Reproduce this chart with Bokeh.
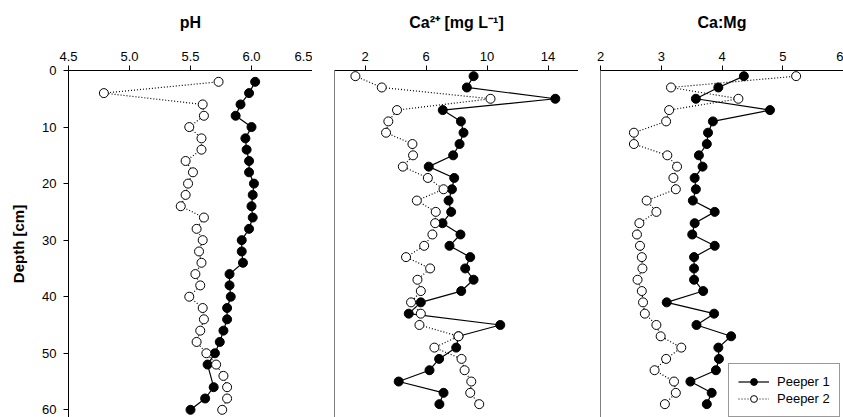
from bokeh.plotting import figure
from bokeh.layouts import row
from bokeh.models import Range1d, FixedTicker, Span, Legend, LegendItem, ColumnDataSource
from bokeh.embed import file_html
from bokeh.resources import INLINE

# ---------------- data ----------------
depth_ph_p1 = [2, 4, 6, 8, 10, 12, 14, 16, 18, 20, 22, 24, 26, 28, 30, 32, 34, 36, 38, 40,
               42, 44, 46, 48, 50, 52, 56, 58, 60]
ph_p1 = [6.03, 5.98, 5.91, 5.87, 6.00, 5.95, 5.96, 5.98, 5.98, 6.02, 6.01, 6.00, 6.01, 5.98,
         5.92, 5.92, 5.93, 5.82, 5.82, 5.83, 5.80, 5.80, 5.77, 5.74, 5.70, 5.64, 5.69, 5.62, 5.50]
depth_ph_p2 = [2, 4, 6, 8, 10, 12, 14, 16, 18, 20, 22, 24, 26, 28, 30, 32, 34, 36, 38, 40,
               42, 44, 46, 48, 50, 52, 54, 56, 58, 60]
ph_p2 = [5.73, 4.79, 5.60, 5.61, 5.49, 5.59, 5.59, 5.46, 5.52, 5.48, 5.46, 5.42, 5.61, 5.55,
         5.60, 5.57, 5.59, 5.54, 5.58, 5.49, 5.60, 5.61, 5.58, 5.55, 5.63, 5.71, 5.77, 5.80,
         5.80, 5.76]

depth_ca = [1, 3, 5, 7, 9, 11, 13, 15, 17, 19, 21, 23, 25, 27, 29, 31, 33, 35, 37, 39,
            41, 43, 45, 47, 49, 51, 53, 55, 57, 59]
ca_p1 = [9.12, 8.68, 14.48, 7.10, 8.29, 8.46, 8.20, 7.78, 6.18, 7.85, 7.70, 7.48, 7.65, 7.08,
         8.26, 7.54, 8.90, 8.57, 9.12, 8.31, 5.66, 4.87, 10.87, 8.13, 7.98, 6.86, 6.23, 4.21,
         7.15, 6.88]
ca_p2 = [1.37, 3.10, 10.23, 4.10, 3.53, 3.38, 5.11, 5.15, 4.48, 6.12, 7.15, 5.40, 6.64, 6.60,
         6.42, 5.88, 4.69, 6.27, 5.44, 5.66, 5.02, 5.66, 5.57, 8.13, 6.55, 8.33, 8.53, 8.97,
         8.90, 9.49]

camg_p1 = [4.36, 3.94, 3.57, 4.79, 3.85, 3.77, 3.75, 3.62, 3.68, 3.55, 3.57, 3.52, 3.88, 3.55,
           3.51, 3.88, 3.54, 3.54, 3.54, 3.69, 3.09, 3.87, 3.58, 4.15, 3.94, 3.95, 3.90, 3.48,
           3.83, 3.75]
camg_p2 = [5.22, 3.16, 4.27, 3.13, 3.08, 2.55, 2.55, 3.10, 3.26, 3.20, 3.24, 2.76, 2.92, 2.64,
           2.60, 2.65, 2.68, 2.69, 2.61, 2.68, 2.70, 2.73, 2.92, 2.99, 3.33, 3.08, 2.89, 3.21,
           3.24, 3.06]

titles = ["pH", "Ca\u00b2\u207a [mg L\u207b\u00b9]", "Ca:Mg"]
xranges = [(4.5, 6.5), (0, 16), (2, 6)]
xticks = [[4.5, 5.0, 5.5, 6.0, 6.5], [2, 6, 10, 14], [2, 3, 4, 5, 6]]
yticks = [0, 10, 20, 30, 40, 50, 60]
series_names = ["Peeper 1", "Peeper 2"]

FONT = "Liberation Sans"
Y_MAX = 61.36

panels = [
    (depth_ph_p1, ph_p1, depth_ph_p2, ph_p2),
    (depth_ca, ca_p1, depth_ca, ca_p2),
    (depth_ca, camg_p1, depth_ca, camg_p2),
]

figs = []
for i in range(3):
    d1, v1, d2, v2 = panels[i]
    p = figure(frame_width=244 if i < 2 else 243, frame_height=347,
               x_range=Range1d(*xranges[i]), y_range=Range1d(Y_MAX, 0),
               x_axis_location="above", y_axis_location="left", title=None,
               toolbar_location=None, output_backend="svg",
               min_border_top=70, min_border_bottom=0, min_border_right=0,
               min_border_left=68 if i == 0 else 22)
    p.outline_line_color = None
    p.grid.visible = False
    p.background_fill_color = "white"
    p.border_fill_color = "white"

    xa = p.xaxis[0]
    xa.ticker = FixedTicker(ticks=xticks[i])
    xa.major_tick_out = 5
    xa.major_tick_in = 0
    xa.minor_tick_line_color = None
    xa.major_label_text_font = FONT
    xa.major_label_text_font_size = "13px"
    xa.major_label_text_color = "black"
    xa.axis_line_color = "black"
    xa.major_tick_line_color = "black"
    xa.major_label_standoff = 5
    xa.axis_label = titles[i]
    xa.axis_label_text_font = FONT
    xa.axis_label_text_font_size = "16px"
    xa.axis_label_text_font_style = "bold"
    xa.axis_label_text_color = "black"
    xa.axis_label_standoff = 18
    if i == 0:
        xa.major_label_overrides = {4.5: "4.5", 5.0: "5.0", 5.5: "5.5", 6.0: "6.0", 6.5: "6.5"}

    ya = p.yaxis[0]
    if i == 0:
        ya.ticker = FixedTicker(ticks=yticks)
        ya.major_tick_out = 5
        ya.major_tick_in = 0
        ya.minor_tick_line_color = None
        ya.major_label_text_font = FONT
        ya.major_label_text_font_size = "13px"
        ya.major_label_text_color = "black"
        ya.major_label_standoff = 7
        ya.axis_label = "Depth [cm]"
        ya.axis_label_text_font = FONT
        ya.axis_label_text_font_size = "15px"
        ya.axis_label_text_font_style = "bold"
        ya.axis_label_text_color = "black"
        ya.axis_label_standoff = 12
    else:
        ya.visible = False
        p.add_layout(Span(location=xranges[i][0], dimension="height",
                          line_color="black", line_width=1))
    if i < 2:
        p.add_layout(Span(location=xranges[i][1], dimension="height",
                          line_color="black", line_width=1))

    s1 = ColumnDataSource(dict(x=v1, y=d1))
    s2 = ColumnDataSource(dict(x=v2, y=d2))
    l1 = p.line("x", "y", source=s1, line_color="black", line_width=1.2)
    c1 = p.scatter("x", "y", source=s1, size=9, marker="circle",
                   fill_color="black", line_color="black")
    l2 = p.line("x", "y", source=s2, line_color="black", line_width=1.2, line_dash="1 2")
    c2 = p.scatter("x", "y", source=s2, size=9, marker="circle",
                   fill_color="white", line_color="black", line_width=1)

    if i == 2:
        legend = Legend(items=[LegendItem(label=series_names[0], renderers=[l1, c1]),
                               LegendItem(label=series_names[1], renderers=[l2, c2])],
                        location=(128, 0))
        legend.label_text_font = FONT
        legend.label_text_font_size = "13px"
        legend.label_text_color = "black"
        legend.glyph_width = 31
        legend.glyph_height = 17
        legend.label_height = 17
        legend.label_standoff = 8
        legend.padding = 9
        legend.spacing = 0
        legend.margin = 0
        legend.border_line_color = "#333333"
        legend.border_line_width = 1
        legend.background_fill_color = "white"
        legend.background_fill_alpha = 1.0
        p.add_layout(legend)
    figs.append(p)

layout = row(*figs, spacing=0)
open("out.html", "w").write(file_html(layout, INLINE))
